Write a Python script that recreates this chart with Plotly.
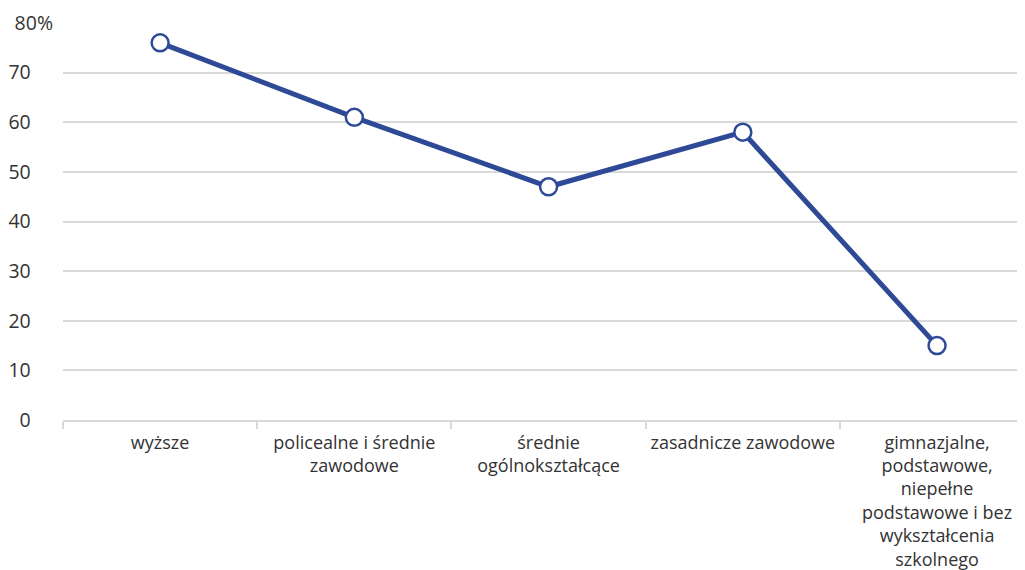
import plotly.graph_objects as go

categories = [
    "wyższe",
    "policealne i średnie<br>zawodowe",
    "średnie<br>ogólnokształcące",
    "zasadnicze zawodowe",
    "gimnazjalne,<br>podstawowe,<br>niepełne<br>podstawowe i bez<br>wykształcenia<br>szkolnego",
]
values = [76, 61, 47, 58, 15]
y_tickvals = [0, 10, 20, 30, 40, 50, 60, 70, 80]
y_ticktext = ["0", "10", "20", "30", "40", "50", "60", "70", "80%"]

LINE = "#2e4a97"
TEXT = "#333333"
GRID = "#d9d9d9"
PAD = "\u2007\u2007"

fig = go.Figure(go.Scatter(
    x=categories, y=values, mode="lines+markers",
    line=dict(color=LINE, width=5),
    marker=dict(size=17, color="white", line=dict(color=LINE, width=2.5)),
    hoverinfo="skip",
))

fig.update_layout(
    width=1025, height=570,
    margin=dict(l=55, r=0, t=15, b=158, autoexpand=False),
    paper_bgcolor="white", plot_bgcolor="white",
    font=dict(family="Open Sans, Noto Sans, sans-serif", size=19, color=TEXT),
    showlegend=False,
)
fig.update_xaxes(
    type="category", range=[-0.5, 4.494], tickangle=0, automargin=False,
    showgrid=False, showline=True, linecolor=GRID, linewidth=2,
    ticks="outside", tickson="boundaries", ticklen=7, tickcolor=GRID, tickwidth=2,
    ticklabelstandoff=5,
    tickfont=dict(size=18, color=TEXT),
)
fig.update_yaxes(
    range=[0, 80], tickvals=y_tickvals, automargin=False,
    ticktext=[t if t.endswith("%") else t + PAD for t in y_ticktext],
    showgrid=True, gridcolor=GRID, gridwidth=1.5, zeroline=False,
    showline=False, ticks="", ticklabelstandoff=9,
    tickfont=dict(size=19.5, color=TEXT),
)

fig.write_html("out.html")
